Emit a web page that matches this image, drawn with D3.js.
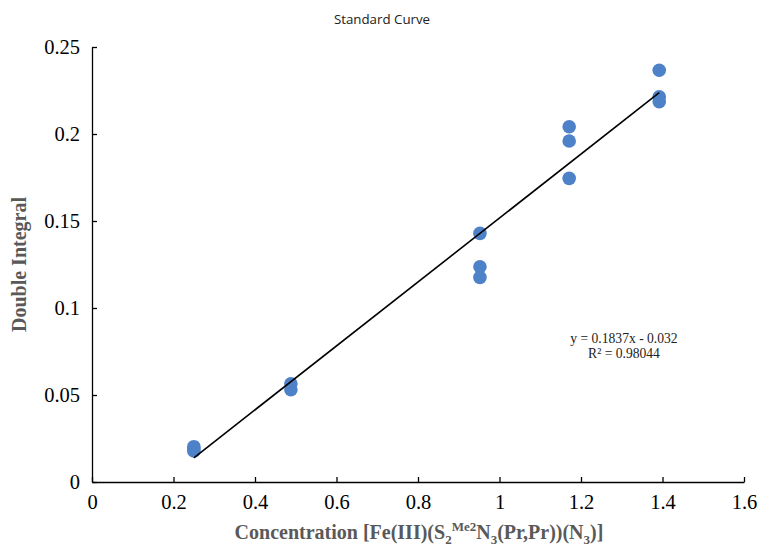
<!DOCTYPE html>
<html>
<head>
<meta charset="utf-8">
<script src="https://cdn.jsdelivr.net/npm/d3@7"></script>
<style>
  html, body { margin: 0; padding: 0; background: #fff; }
  svg { display: block; }
</style>
</head>
<body>
<svg id="chart" width="762" height="547"></svg>
<script>
// Concentration (x) and double-integral (y) readings, grouped by sample
const concentrations = [0.25, 0.25, 0.25, 0.488, 0.488, 0.952, 0.952, 0.952, 1.171, 1.171, 1.171, 1.392, 1.392, 1.392];
const doubleIntegrals = [0.0203, 0.0188, 0.0178, 0.0565, 0.053, 0.1429, 0.1237, 0.1176, 0.2042, 0.196, 0.1745, 0.2366, 0.2214, 0.2186];
const xTicks = [0, 0.2, 0.4, 0.6, 0.8, 1, 1.2, 1.4, 1.6];
const yTicks = [0, 0.05, 0.1, 0.15, 0.2, 0.25];
const fitSlope = 0.1837;
const fitIntercept = -0.032;
const fitR2 = "0.98044";

const svg = d3.select("#chart");
const plotLeft = 92, plotRight = 744, plotTop = 47, plotBottom = 482;

const x = d3.scaleLinear().domain([0, 1.6]).range([plotLeft, plotRight]);
const y = d3.scaleLinear().domain([0, 0.25]).range([plotBottom, plotTop]);

const serif = "'Liberation Serif', 'Times New Roman', serif";

// Title
svg.append("text")
  .attr("x", 382).attr("y", 24)
  .attr("text-anchor", "middle")
  .style("font-family", "'Open Sans', 'Noto Sans', sans-serif")
  .style("font-size", "13.3px")
  .attr("fill", "#222")
  .text("Standard Curve");

// Axes with inward ticks
const xAxis = svg.append("g")
  .attr("transform", `translate(0,${plotBottom})`)
  .call(d3.axisBottom(x).tickValues(xTicks).tickSizeInner(-5).tickSizeOuter(0)
    .tickFormat(d3.format("~g")));
const yAxis = svg.append("g")
  .attr("transform", `translate(${plotLeft},0)`)
  .call(d3.axisLeft(y).tickValues(yTicks).tickSizeInner(-5).tickSizeOuter(0)
    .tickFormat(d3.format("~g")));

[xAxis, yAxis].forEach(g => {
  g.attr("font-family", null).attr("font-size", null);
  g.select(".domain").attr("stroke", "#000").attr("stroke-width", 1.3);
  g.selectAll(".tick line").attr("stroke", "#000").attr("stroke-width", 1.3);
  g.selectAll(".tick text")
    .style("font-family", serif)
    .style("font-size", "20.5px")
    .attr("fill", "#000");
});
xAxis.selectAll(".tick text").attr("y", 12).attr("dy", "0.71em");
yAxis.selectAll(".tick text").attr("x", -12).attr("dy", "0.32em");

// Data points
svg.append("g")
  .selectAll("circle")
  .data(concentrations.map((c, i) => ({ c, v: doubleIntegrals[i] })))
  .join("circle")
  .attr("cx", d => x(d.c))
  .attr("cy", d => y(d.v))
  .attr("r", 6.8)
  .attr("fill", "#4e82c8");

// Linear fit across the measured range
const xMin = d3.min(concentrations), xMax = d3.max(concentrations);
svg.append("line")
  .attr("x1", x(xMin)).attr("y1", y(fitSlope * xMin + fitIntercept))
  .attr("x2", x(xMax)).attr("y2", y(fitSlope * xMax + fitIntercept))
  .attr("stroke", "#000")
  .attr("stroke-width", 1.6);

// Fit equation
const eq = svg.append("text")
  .style("font-family", serif)
  .style("font-size", "13.6px")
  .attr("fill", "#222")
  .attr("text-anchor", "middle");
eq.append("tspan").attr("x", 624).attr("y", 343)
  .text(`y = ${fitSlope}x - ${Math.abs(fitIntercept)}`);
eq.append("tspan").attr("x", 624).attr("y", 358)
  .text(`R² = ${fitR2}`);

// Axis titles
svg.append("text")
  .attr("transform", `translate(26,${(plotTop + plotBottom) / 2}) rotate(-90)`)
  .attr("text-anchor", "middle")
  .style("font-family", serif)
  .style("font-weight", "bold")
  .style("font-size", "20px")
  .attr("fill", "#595959")
  .text("Double Integral");

// X title with chemical sub/superscripts; offset = baseline shift in px
const xTitleParts = [
  { t: "Concentration [Fe(III)(S", off: 0 },
  { t: "2", off: 5, small: true },
  { t: "Me2", off: -8, small: true },
  { t: "N", off: 0 },
  { t: "3", off: 5, small: true },
  { t: "(Pr,Pr))(N", off: 0 },
  { t: "3", off: 5, small: true },
  { t: ")]", off: 0 }
];
const xt = svg.append("text")
  .attr("x", 419).attr("y", 539)
  .attr("text-anchor", "middle")
  .style("font-family", serif)
  .style("font-weight", "bold")
  .style("font-size", "20px")
  .attr("fill", "#595959");
let prevOff = 0;
xTitleParts.forEach(p => {
  const s = xt.append("tspan").text(p.t).attr("dy", p.off - prevOff);
  if (p.small) s.style("font-size", "13px");
  prevOff = p.off;
});
</script>
</body>
</html>
